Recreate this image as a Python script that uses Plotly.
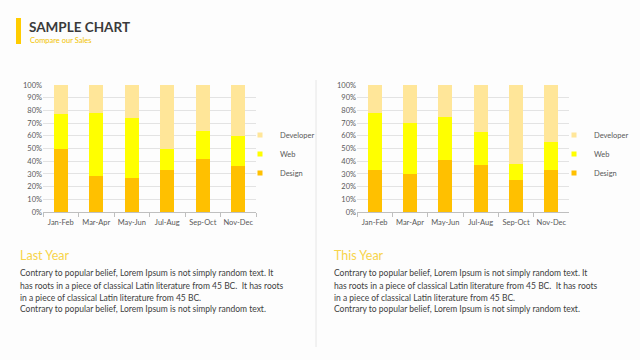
import plotly.graph_objects as go

categories = ["Jan-Feb", "Mar-Apr", "May-Jun", "Jul-Aug", "Sep-Oct", "Nov-Dec"]

last_design = [50, 28, 27, 33, 42, 36]
last_web = [27, 50, 47, 17, 22, 24]
last_developer = [23, 22, 26, 50, 36, 40]

this_design = [33, 30, 41, 37, 25, 33]
this_web = [45, 40, 34, 26, 13, 22]
this_developer = [22, 30, 25, 37, 62, 45]

series_names = ["Design", "Web", "Developer"]
series_colors = ["#FFC000", "#FFFF00", "#FFE699"]

body_lines = [
    "Contrary to popular belief, Lorem Ipsum is not simply random text. It",
    "has roots in a piece of classical Latin literature from 45 BC.  It has roots",
    "in a piece of classical Latin literature from 45 BC.",
    "Contrary to popular belief, Lorem Ipsum is not simply random text.",
]

FONT = "Lato"
W, H = 640, 360

def px(x):
    return x / W

def py(y):
    return 1 - y / H

fig = go.Figure()

left = [last_design, last_web, last_developer]
right = [this_design, this_web, this_developer]
for i, name in enumerate(series_names):
    fig.add_trace(go.Bar(x=categories, y=left[i], name=name, marker_color=series_colors[i],
                         marker_line_width=0, xaxis="x", yaxis="y", showlegend=False))
    fig.add_trace(go.Bar(x=categories, y=right[i], name=name, marker_color=series_colors[i],
                         marker_line_width=0, xaxis="x2", yaxis="y2", showlegend=False))
    # legend entries (small square swatches)
    for lg, xa, ya in (("legend", "x", "y"), ("legend2", "x2", "y2")):
        fig.add_trace(go.Scatter(x=[None], y=[None], mode="markers", name=name,
                                 marker=dict(symbol="square", size=5, color=series_colors[i]),
                                 xaxis=xa, yaxis=ya, legend=lg, showlegend=True))

ydom = [py(212), py(85)]
axis_common_x = dict(type="category", showgrid=False, showline=True, linecolor="#BFBFBF",
                     linewidth=1, ticks="outside", tickson="boundaries", ticklen=4,
                     tickcolor="#BFBFBF", tickangle=0, automargin=False, ticklabelstandoff=3,
                     tickfont=dict(family=FONT, size=7.5, color="#595959"),
                     fixedrange=True)
axis_common_y = dict(range=[0, 100], dtick=10, ticksuffix="%", showgrid=True,
                     gridcolor="#E3E3E3", gridwidth=1, showline=False, zeroline=False,
                     automargin=False,
                     tickfont=dict(family=FONT, size=7.5, color="#595959"), fixedrange=True)

legend_common = dict(font=dict(family=FONT, size=7.5, color="#595959"), traceorder="reversed",
                     bgcolor="rgba(0,0,0,0)", itemwidth=30, xanchor="left", yanchor="middle",
                     tracegroupgap=0)

fig.update_layout(
    width=W, height=H,
    margin=dict(l=0, r=0, t=0, b=0),
    paper_bgcolor="#FDFDFD", plot_bgcolor="#FDFDFD",
    barmode="stack", barnorm="percent", bargap=0.6,
    xaxis=dict(domain=[px(43), px(256)], anchor="y", **axis_common_x),
    yaxis=dict(domain=ydom, anchor="x", **axis_common_y),
    xaxis2=dict(domain=[px(357), px(569)], anchor="y2", **axis_common_x),
    yaxis2=dict(domain=ydom, anchor="x2", **axis_common_y),
    legend=dict(x=px(240), y=py(154), **legend_common),
    legend2=dict(x=px(554), y=py(154), **legend_common),
    font=dict(family=FONT),
)

shapes = [
    dict(type="rect", xref="paper", yref="paper", x0=px(16), x1=px(21), y0=py(44), y1=py(18),
         fillcolor="#FFCC00", line_width=0),
    dict(type="line", xref="paper", yref="paper", x0=px(316), x1=px(316), y0=py(80), y1=py(347),
         line=dict(color="#E6E6E6", width=1)),
]
fig.update_layout(shapes=shapes)

annotations = [
    dict(text="<b>SAMPLE CHART</b>", x=px(27), y=py(27), xanchor="left", yanchor="middle",
         font=dict(family=FONT, size=13.5, color="#3A3A3A")),
    dict(text="Compare our Sales", x=px(28), y=py(40), xanchor="left", yanchor="middle",
         font=dict(family=FONT, size=7.5, color="#F2C300")),
    dict(text="Last Year", x=px(18), y=py(255), xanchor="left", yanchor="middle",
         font=dict(family=FONT, size=12.5, color="#F7D44A")),
    dict(text="This Year", x=px(332), y=py(255), xanchor="left", yanchor="middle",
         font=dict(family=FONT, size=12.5, color="#F7D44A")),
]
line_y = [273, 285.5, 297.5, 309]
for x0 in (18, 332):
    for ly, txt in zip(line_y, body_lines):
        annotations.append(dict(text=txt, x=px(x0), y=py(ly), xanchor="left", yanchor="middle",
                                font=dict(family=FONT, size=8.5, color="#404040")))
for a in annotations:
    a.update(xref="paper", yref="paper", showarrow=False)
fig.update_layout(annotations=annotations)

fig.write_html("out.html", config={"displayModeBar": False})

# remove the browser's default body margin so the figure sits at the page origin
with open("out.html", "r", encoding="utf-8") as f:
    html = f.read()
html = html.replace("<head>", "<head><style>html,body{margin:0;padding:0;}</style>", 1)
with open("out.html", "w", encoding="utf-8") as f:
    f.write(html)
